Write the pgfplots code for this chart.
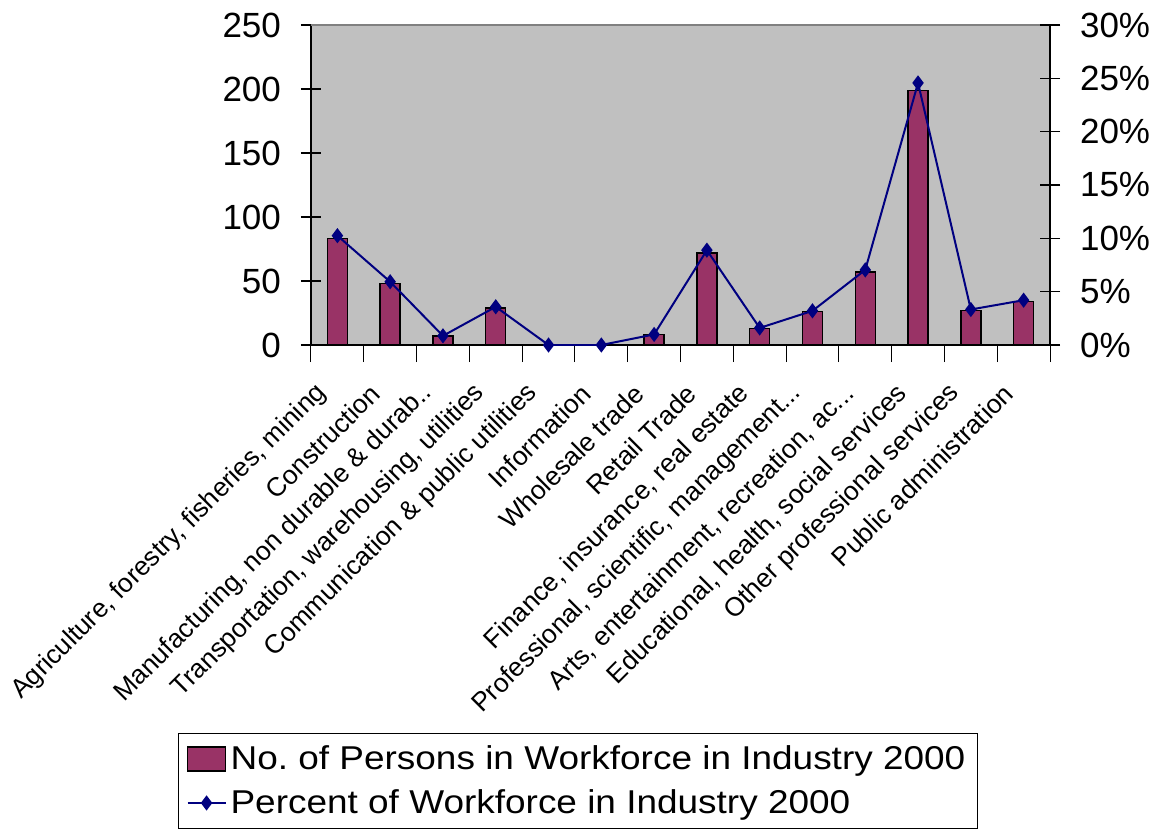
\documentclass[border=0pt]{standalone}
\usepackage{pgfplots}
\pgfplotsset{compat=1.18}
\usepackage{fontspec}
\setmainfont{Liberation Sans}
\newfontfamily\legfont[FakeStretch=1.12]{Liberation Sans}
\definecolor{barcol}{HTML}{993366}
\definecolor{linecol}{HTML}{000080}
\definecolor{plotbg}{HTML}{C0C0C0}
\frenchspacing
\begin{document}
\begin{tikzpicture}
\pgfplotsset{
  base/.style={
    width=369.5pt, height=160pt, scale only axis,
    at={(0,0)}, anchor=south west,
    xmin=-0.5, xmax=13.5, enlargelimits=false,
    /pgf/number format/assume math mode=true,
    major tick length=10pt,
    tick style={black, line width=0.6pt},
    y tick label style={font=\fontsize{17.5}{20}\selectfont},
  }
}
\begin{axis}[base,
  ymin=0, ymax=250, ytick={0,50,...,250},
  axis y line*=left, axis x line*=bottom,
  tick align=center, xtick align=center,
  axis line style={-, black, line width=0.8pt},
  axis background/.style={fill=plotbg},
  xtick={0,...,13},
  xticklabels={{Agriculture, forestry, fisheries, mining},{Construction},{Manufacturing, non durable \& durab{.}{.}},{Transportation, warehousing, utilities},{Communication \& public utilities},{Information},{Wholesale trade},{Retail Trade},{Finance, insurance, real estate},{Professional, scientific, management{.}{.}{.}},{Arts, entertainment, recreation, ac{.}{.}{.}},{Educational, health, social services},{Other professional services},{Public administration}},
  major x tick style={draw=none},
  minor xtick={-0.5,0.5,...,13.5},
  minor x tick style={black, line width=0.5pt},
  minor tick length=8.5pt,
  x tick label style={xshift=-7.5pt, yshift=-12pt, rotate=45, anchor=east, font=\fontsize{13.2}{15}\selectfont, inner sep=0pt},
  y tick label style={xshift=-6.5pt},
  ybar, bar width=10pt,
]
\addplot[fill=barcol, draw=black, line width=0.7pt] coordinates {
(0,83) (1,48) (2,7) (3,29) (4,0) (5,0) (6,8) (7,72) (8,13) (9,26) (10,57) (11,199) (12,27) (13,34)};
\draw[gray, line width=0.8pt] (rel axis cs:0,1) -- (rel axis cs:1,1);
\end{axis}
\begin{axis}[base,
  ymin=0, ymax=30, ytick={0,5,...,30},
  yticklabel={\pgfmathprintnumber{\tick}\%},
  axis y line*=right, axis x line=none,
  tick align=center,
  y tick label style={xshift=6.5pt},
  axis line style={-, black, line width=0.8pt},
  legend style={at={(-0.18,-1.2125)}, anchor=north west, draw=black, line width=0.6pt,
    font=\legfont\fontsize{16.5}{19}\selectfont, cells={anchor=west}, inner xsep=4pt, inner ysep=4pt, row sep=4.5pt},
]
\addlegendimage{legend image code/.code={\draw[fill=barcol,draw=black,line width=0.7pt] (0pt,-6pt) rectangle (19pt,6pt);}}
\addlegendentry{No. of Persons in Workforce in Industry 2000}
\addplot[linecol, line width=1pt, mark=diamond*, mark size=3pt, mark options={fill=linecol},
  legend image code/.code={\draw[linecol, line width=1pt, mark=diamond*, mark size=3pt, mark options={fill=linecol}, mark repeat=2,mark phase=2] plot coordinates {(0pt,0pt) (9.5pt,0pt) (19pt,0pt)};}] coordinates {
(0,10.25) (1,5.93) (2,0.86) (3,3.58) (4,0) (5,0) (6,0.99) (7,8.89) (8,1.6) (9,3.2) (10,7.04) (11,24.57) (12,3.33) (13,4.2)};
\addlegendentry{Percent of Workforce in Industry 2000}
\end{axis}
\pgfresetboundingbox
\path[use as bounding box] (-155.5pt,-242pt) rectangle (422.5pt,172.5pt);
\end{tikzpicture}
\end{document}
